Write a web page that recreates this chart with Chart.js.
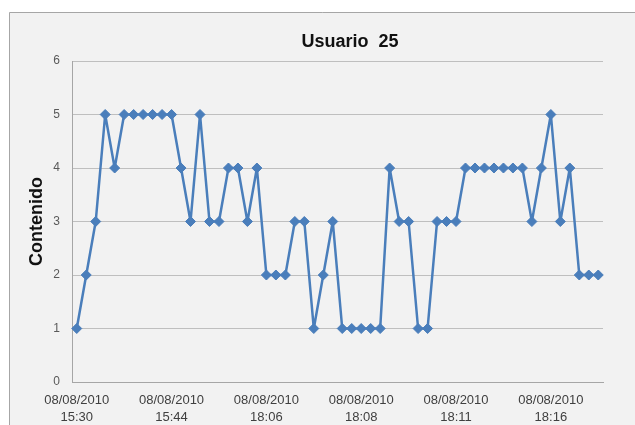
<!DOCTYPE html>
<html>
<head>
<meta charset="utf-8">
<script src="https://cdn.jsdelivr.net/npm/chart.js@4/dist/chart.umd.min.js"></script>
<style>
  html, body { margin: 0; padding: 0; background: #ffffff; }
  #wrap { width: 635px; height: 425px; }
</style>
</head>
<body>
<div id="wrap"><canvas id="c" width="635" height="425"></canvas></div>
<script>
// Contenido values, one per recorded entry (56 entries)
const contenido = [
  1, 2, 3, 5, 4, 5, 5, 5, 5, 5,
  5, 4, 3, 5, 3, 3, 4, 4, 3, 4,
  2, 2, 2, 3, 3, 1, 2, 3, 1, 1,
  1, 1, 1, 4, 3, 3, 1, 1, 3, 3,
  3, 4, 4, 4, 4, 4, 4, 4, 3, 4,
  5, 3, 4, 2, 2, 2
];
// Date shown under every tenth entry, with its time
const tickDate = '08/08/2010';
const tickTimes = ['15:30', '15:44', '18:06', '18:08', '18:11', '18:16'];
const tickEvery = 10;
const yTicks = [0, 1, 2, 3, 4, 5, 6];
const chartTitle = 'Usuario  25';
const yTitle = 'Contenido';

const categories = contenido.map((_, i) => String(i + 1));

// Grey panel with a thin frame behind the plot, plus the centred title
const framePlugin = {
  id: 'frame',
  beforeDraw(chart) {
    const ctx = chart.ctx;
    ctx.save();
    ctx.fillStyle = '#ffffff';
    ctx.fillRect(0, 0, chart.width, chart.height);
    ctx.fillStyle = '#f2f2f2';
    ctx.fillRect(9, 12, chart.width - 9, chart.height - 12);
    ctx.strokeStyle = '#a6a6a6';
    ctx.lineWidth = 1;
    ctx.beginPath();
    ctx.moveTo(9.5, chart.height);
    ctx.lineTo(9.5, 12.5);
    ctx.lineTo(chart.width, 12.5);
    ctx.stroke();
    ctx.restore();
  },
  afterDraw(chart) {
    const ctx = chart.ctx;
    ctx.save();
    ctx.font = 'bold 18px "Liberation Sans", Arial, sans-serif';
    ctx.fillStyle = '#111111';
    ctx.textAlign = 'center';
    ctx.textBaseline = 'middle';
    ctx.fillText(chartTitle, 350, 42);
    ctx.restore();
  }
};

new Chart(document.getElementById('c'), {
  type: 'line',
  data: {
    labels: categories,
    datasets: [{
      data: contenido,
      borderColor: '#4a7ebb',
      backgroundColor: '#4a7ebb',
      borderWidth: 2.5,
      borderJoinStyle: 'round',
      borderCapStyle: 'round',
      pointStyle: 'rectRot',
      pointRadius: 5,
      pointBackgroundColor: '#4a7ebb',
      pointBorderColor: '#4a7ebb',
      pointBorderWidth: 1,
      tension: 0,
      fill: false
    }]
  },
  options: {
    responsive: false,
    animation: false,
    devicePixelRatio: 1,
    layout: { padding: { top: 61, right: 32, left: 0, bottom: 0 } },
    plugins: {
      legend: { display: false },
      title: { display: false },
      tooltip: { enabled: false }
    },
    scales: {
      x: {
        type: 'category',
        offset: true,
        grid: { display: false, drawTicks: false },
        border: { display: true, color: '#a6a6a6', width: 1 },
        ticks: {
          autoSkip: false,
          maxRotation: 0,
          minRotation: 0,
          padding: 10,
          color: '#404040',
          font: { family: '"Liberation Sans", Arial, sans-serif', size: 13, lineHeight: 1.3 },
          callback: (v, i) => (i % tickEvery === 0 && tickTimes[i / tickEvery] !== undefined)
            ? [tickDate, tickTimes[i / tickEvery]] : ''
        },
        afterFit: (s) => { s.height = 43; }
      },
      y: {
        min: yTicks[0],
        max: yTicks[yTicks.length - 1],
        afterBuildTicks: (s) => { s.ticks = yTicks.map(v => ({ value: v })); },
        grid: { color: '#bfbfbf', lineWidth: 1, drawTicks: false },
        border: { display: true, color: '#a6a6a6', width: 1 },
        ticks: {
          padding: 12,
          color: '#595959',
          font: { family: '"Liberation Sans", Arial, sans-serif', size: 12 }
        },
        title: {
          display: true,
          text: yTitle,
          color: '#111111',
          font: { family: '"Liberation Sans", Arial, sans-serif', size: 18, weight: 'bold', lineHeight: 1.2 },
          padding: { top: 26, bottom: 0 }
        },
        afterFit: (s) => { s.width = 72; }
      }
    }
  },
  plugins: [framePlugin]
});
</script>
</body>
</html>
